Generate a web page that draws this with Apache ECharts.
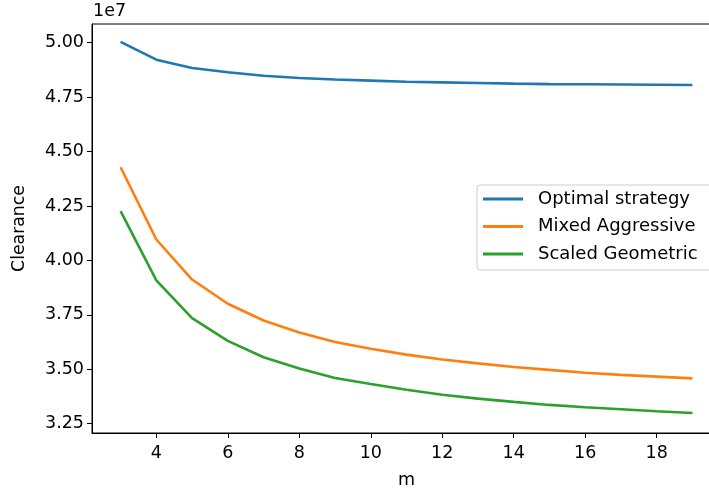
<!DOCTYPE html>
<html>
<head>
<meta charset="utf-8">
<script src="https://cdn.jsdelivr.net/npm/echarts@6/dist/echarts.min.js"></script>
<style>
  html, body { margin: 0; padding: 0; background: #fff; }
  #chart { width: 709px; height: 488px; }
</style>
</head>
<body>
<div id="chart"></div>
<script>
// m values
const mValues = [3, 4, 5, 6, 7, 8, 9, 10, 11, 12, 13, 14, 15, 16, 17, 18, 19];
// Clearance values, in units of 1e7
const optimalStrategy = [5.004, 4.922, 4.884, 4.864, 4.848, 4.838, 4.831, 4.826, 4.821, 4.818, 4.815, 4.812, 4.810, 4.809, 4.808, 4.807, 4.806];
const mixedAggressive = [4.428, 4.096, 3.912, 3.801, 3.724, 3.669, 3.625, 3.594, 3.567, 3.545, 3.527, 3.510, 3.497, 3.484, 3.474, 3.466, 3.458];
const scaledGeometric = [4.226, 3.908, 3.735, 3.630, 3.555, 3.503, 3.460, 3.432, 3.406, 3.383, 3.365, 3.350, 3.336, 3.325, 3.316, 3.307, 3.299];
const seriesNames = ['Optimal strategy', 'Mixed Aggressive', 'Scaled Geometric'];
const xTicks = [4, 6, 8, 10, 12, 14, 16, 18];
const yTicks = [3.25, 3.50, 3.75, 4.00, 4.25, 4.50, 4.75, 5.00];
const colors = ['#1f77b4', '#ff7f0e', '#2ca02c'];

const font = 'DejaVu Sans';
const fs = 17.5;
const pair = arr => mValues.map((m, i) => [m, arr[i]]);
const allSeries = [optimalStrategy, mixedAggressive, scaledGeometric];

const chart = echarts.init(document.getElementById('chart'), null, { renderer: 'canvas' });
chart.setOption({
  animation: false,
  backgroundColor: '#ffffff',
  textStyle: { fontFamily: font },
  grid: {
    left: 92, top: 24, right: -12, bottom: 55,
    containLabel: false, outerBoundsMode: 'none',
    show: true, borderColor: '#000', borderWidth: 1, backgroundColor: 'transparent'
  },
  graphic: [{
    type: 'text', left: 93, top: 2,
    style: { text: '1e7', font: fs + 'px "DejaVu Sans"', fill: '#000' }
  }],
  legend: {
    left: 477, top: 185,
    orient: 'vertical',
    data: seriesNames,
    icon: 'rect',
    itemWidth: 40, itemHeight: 3,
    itemGap: 9.5,
    padding: [5, 20, 7, 6],
    backgroundColor: 'rgba(255,255,255,0.8)',
    borderColor: '#cccccc', borderWidth: 1, borderRadius: 3,
    textStyle: { fontFamily: font, fontSize: 18, color: '#000', padding: [0, 0, 0, 10], lineHeight: 18 }
  },
  xAxis: {
    type: 'value', min: 2.2, max: 19.8,
    name: 'm', nameLocation: 'middle', nameGap: 38,
    nameTextStyle: { fontFamily: font, fontSize: fs, color: '#000' },
    axisLine: { show: true, lineStyle: { color: '#000', width: 1 } },
    axisTick: { show: true, inside: false, length: 5, lineStyle: { color: '#000' }, customValues: xTicks },
    axisLabel: { color: '#000', fontSize: fs, fontFamily: font, margin: 11, customValues: xTicks },
    splitLine: { show: false }
  },
  yAxis: {
    type: 'value', min: 3.207, max: 5.086,
    name: 'Clearance', nameLocation: 'middle', nameGap: 64, nameRotate: 90,
    nameTextStyle: { fontFamily: font, fontSize: 17.3, color: '#000' },
    axisLine: { show: true, lineStyle: { color: '#000', width: 1 } },
    axisTick: { show: true, inside: false, length: 5, lineStyle: { color: '#000' }, customValues: yTicks },
    axisLabel: { color: '#000', fontSize: fs, fontFamily: font, margin: 8,
      customValues: yTicks, formatter: v => v.toFixed(2) },
    splitLine: { show: false }
  },
  series: allSeries.map((arr, i) => ({
    name: seriesNames[i],
    type: 'line',
    data: pair(arr),
    symbol: 'none',
    smooth: false,
    lineStyle: { color: colors[i], width: 2.6 },
    itemStyle: { color: colors[i] },
    z: 2
  }))
});
</script>
</body>
</html>
